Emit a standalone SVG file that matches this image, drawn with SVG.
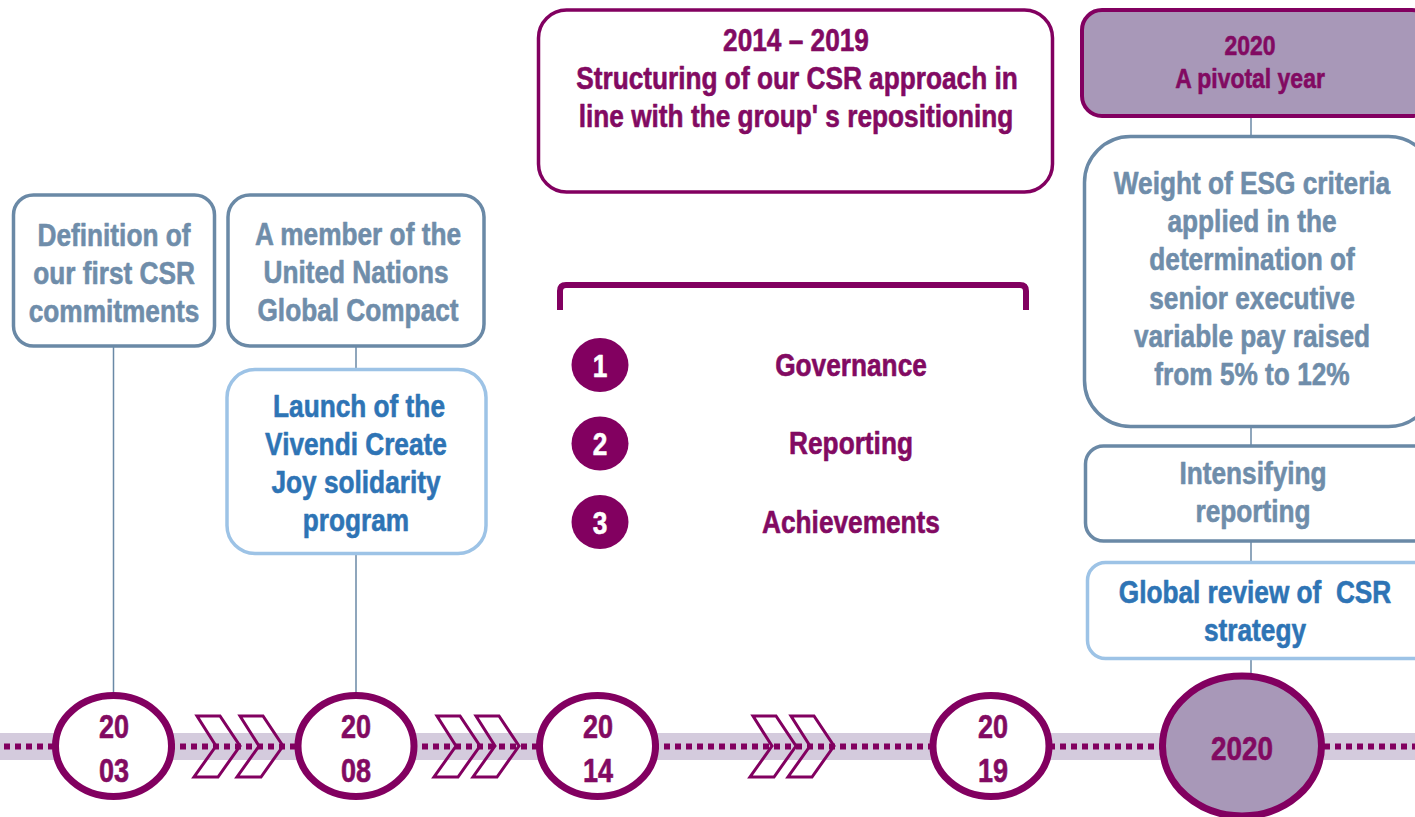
<svg xmlns="http://www.w3.org/2000/svg" width="1415" height="817" viewBox="0 0 1415 817">
  <defs>
    <style>
      .t { font-family: "Liberation Sans", Arial, sans-serif; font-weight: bold; font-size: 32px; text-anchor: middle; stroke-width: 0.6; stroke-linejoin: round; }
      .purple { fill: #820a62; stroke: #820a62; }
      .grey { fill: #6f8daa; stroke: #6f8daa; }
      .blue { fill: #2e74b5; stroke: #2e74b5; }
      .white { fill: #ffffff; stroke: #ffffff; }
      .yr { font-size: 33px; }
      .boxGrey { fill: #ffffff; stroke: #6a89a6; stroke-width: 3.5; }
      .boxBlue { fill: #ffffff; stroke: #9dc3e6; stroke-width: 3.5; }
      .boxPurple { fill: #ffffff; stroke: #820060; stroke-width: 3.5; }
      .boxPivot { fill: #a898b8; stroke: #820060; stroke-width: 4; }
      .year { fill: #ffffff; stroke: #820060; stroke-width: 7; }
      .yearHi { fill: #a898b8; stroke: #820060; stroke-width: 7; }
      .link { stroke: #6a89a6; stroke-width: 1.5; fill: none; }
      .chev { fill: none; stroke: #820060; stroke-width: 3; stroke-linejoin: miter; }
      .num { fill: #820060; }
    </style>
    <path id="chevron" class="chev" d="M3,-30 H26 L46,0 L24,31 H0 L22,0 Z"/>
  </defs>

  <rect width="1415" height="817" fill="#ffffff"/>

  <!-- timeline band and dotted axis -->
  <g id="timeline">
    <rect x="0" y="733" width="1415" height="27" fill="#d4cbdd"/>
    <line x1="4" y1="746.5" x2="1415" y2="746.5" stroke="#820060" stroke-width="6" stroke-dasharray="6 5"/>
    <use href="#chevron" x="194" y="746"/>
    <use href="#chevron" x="237" y="746"/>
    <use href="#chevron" x="434" y="746"/>
    <use href="#chevron" x="473" y="746"/>
    <use href="#chevron" x="750" y="746"/>
    <use href="#chevron" x="788" y="746"/>
  </g>

  <!-- vertical connectors -->
  <g id="connectors">
    <line class="link" x1="113.5" y1="347" x2="113.5" y2="693"/>
    <line class="link" x1="356" y1="347" x2="356" y2="370"/>
    <line class="link" x1="356" y1="553" x2="356" y2="693"/>
    <line class="link" x1="1251" y1="116" x2="1251" y2="137"/>
    <line class="link" x1="1251" y1="426" x2="1251" y2="447"/>
    <line class="link" x1="1251" y1="541" x2="1251" y2="563"/>
    <line class="link" x1="1251" y1="659" x2="1251" y2="674"/>
  </g>

  <!-- 2003; narrow lettering is drawn by condensing the bold face horizontally -->
  <g id="node-definition">
    <rect class="boxGrey" x="13.5" y="195" width="201" height="151" rx="20"/>
    <text class="t grey" transform="matrix(0.82 0 0 1 114 0)" y="246">Definition of</text>
    <text class="t grey" transform="matrix(0.82 0 0 1 114 0)" y="284">our first CSR</text>
    <text class="t grey" transform="matrix(0.82 0 0 1 114 0)" y="322">commitments</text>
  </g>
  <g id="year-2003">
    <ellipse class="year" cx="113.5" cy="746" rx="58" ry="50.5"/>
    <text class="t purple yr" transform="matrix(0.82 0 0 1 114 0)" y="738">20</text>
    <text class="t purple yr" transform="matrix(0.82 0 0 1 114 0)" y="782">03</text>
  </g>

  <!-- 2008 -->
  <g id="node-global-compact">
    <rect class="boxGrey" x="228" y="195" width="256" height="151" rx="22"/>
    <text class="t grey" transform="matrix(0.82 0 0 1 358 0)" y="245">A member of the</text>
    <text class="t grey" transform="matrix(0.82 0 0 1 356 0)" y="283">United Nations</text>
    <text class="t grey" transform="matrix(0.82 0 0 1 358 0)" y="321">Global Compact</text>
  </g>
  <g id="node-create-joy">
    <rect class="boxBlue" x="227" y="369.5" width="259" height="184" rx="28"/>
    <text class="t blue" transform="matrix(0.82 0 0 1 359 0)" y="417">Launch of the</text>
    <text class="t blue" transform="matrix(0.82 0 0 1 356 0)" y="455">Vivendi Create</text>
    <text class="t blue" transform="matrix(0.82 0 0 1 356 0)" y="493">Joy solidarity</text>
    <text class="t blue" transform="matrix(0.82 0 0 1 356 0)" y="531">program</text>
  </g>
  <g id="year-2008">
    <ellipse class="year" cx="356" cy="746" rx="58" ry="50.5"/>
    <text class="t purple yr" transform="matrix(0.82 0 0 1 356 0)" y="738">20</text>
    <text class="t purple yr" transform="matrix(0.82 0 0 1 356 0)" y="782">08</text>
  </g>

  <!-- 2014 - 2019 -->
  <g id="node-structuring">
    <rect class="boxPurple" x="538.5" y="10" width="514" height="182" rx="28"/>
    <text class="t purple" transform="matrix(0.82 0 0 1 796 0)" y="51">2014 – 2019</text>
    <text class="t purple" transform="matrix(0.82 0 0 1 797 0)" y="89">Structuring of our CSR approach in</text>
    <text class="t purple" transform="matrix(0.82 0 0 1 796 0)" y="127">line with the group' s repositioning</text>
  </g>
  <g id="node-pillars">
    <path d="M560,310 V291 Q560,285 566,285 H1020 Q1026,285 1026,291 V310" fill="none" stroke="#820060" stroke-width="6"/>
    <ellipse class="num" cx="600" cy="365" rx="28.5" ry="27"/>
    <text class="t white" transform="matrix(0.82 0 0 1 600 0)" y="377">1</text>
    <text class="t purple" transform="matrix(0.82 0 0 1 851 0)" y="376">Governance</text>
    <ellipse class="num" cx="600" cy="443.5" rx="28.5" ry="27"/>
    <text class="t white" transform="matrix(0.82 0 0 1 600 0)" y="455">2</text>
    <text class="t purple" transform="matrix(0.82 0 0 1 851 0)" y="454">Reporting</text>
    <ellipse class="num" cx="600" cy="522" rx="28.5" ry="27"/>
    <text class="t white" transform="matrix(0.82 0 0 1 600 0)" y="534">3</text>
    <text class="t purple" transform="matrix(0.82 0 0 1 851 0)" y="533">Achievements</text>
  </g>
  <g id="year-2014">
    <ellipse class="year" cx="597.5" cy="746" rx="58" ry="50.5"/>
    <text class="t purple yr" transform="matrix(0.82 0 0 1 598 0)" y="738">20</text>
    <text class="t purple yr" transform="matrix(0.82 0 0 1 598 0)" y="782">14</text>
  </g>
  <g id="year-2019">
    <ellipse class="year" cx="991" cy="746" rx="58" ry="50.5"/>
    <text class="t purple yr" transform="matrix(0.82 0 0 1 993 0)" y="738">20</text>
    <text class="t purple yr" transform="matrix(0.82 0 0 1 993 0)" y="782">19</text>
  </g>

  <!-- 2020 -->
  <g id="node-pivotal">
    <rect class="boxPivot" x="1082" y="10" width="350" height="106" rx="20"/>
    <text class="t purple" transform="matrix(0.82 0 0 1 1250 0)" y="55" style="font-size:28px">2020</text>
    <text class="t purple" transform="matrix(0.82 0 0 1 1250 0)" y="88" style="font-size:28px">A pivotal year</text>
  </g>
  <g id="node-esg">
    <rect class="boxGrey" x="1084.5" y="136.5" width="350" height="290" rx="46"/>
    <text class="t grey" transform="matrix(0.82 0 0 1 1252 0)" y="194">Weight of ESG criteria</text>
    <text class="t grey" transform="matrix(0.82 0 0 1 1252 0)" y="232">applied in the</text>
    <text class="t grey" transform="matrix(0.82 0 0 1 1252 0)" y="270">determination of</text>
    <text class="t grey" transform="matrix(0.82 0 0 1 1252 0)" y="309">senior executive</text>
    <text class="t grey" transform="matrix(0.82 0 0 1 1252 0)" y="347">variable pay raised</text>
    <text class="t grey" transform="matrix(0.82 0 0 1 1252 0)" y="385">from 5% to 12%</text>
  </g>
  <g id="node-intensifying">
    <rect class="boxGrey" x="1085.5" y="446" width="350" height="95" rx="18"/>
    <text class="t grey" transform="matrix(0.82 0 0 1 1253 0)" y="484">Intensifying</text>
    <text class="t grey" transform="matrix(0.82 0 0 1 1253 0)" y="522">reporting</text>
  </g>
  <g id="node-review">
    <rect class="boxBlue" x="1087.5" y="562.5" width="350" height="96" rx="18"/>
    <text class="t blue" transform="matrix(0.82 0 0 1 1255 0)" y="603" xml:space="preserve">Global review of  CSR</text>
    <text class="t blue" transform="matrix(0.82 0 0 1 1255 0)" y="641">strategy</text>
  </g>
  <g id="year-2020">
    <ellipse class="yearHi" cx="1242" cy="746" rx="79.5" ry="70"/>
    <text class="t purple" transform="matrix(0.82 0 0 1 1242 0)" y="760" style="font-size:34px">2020</text>
  </g>
</svg>
